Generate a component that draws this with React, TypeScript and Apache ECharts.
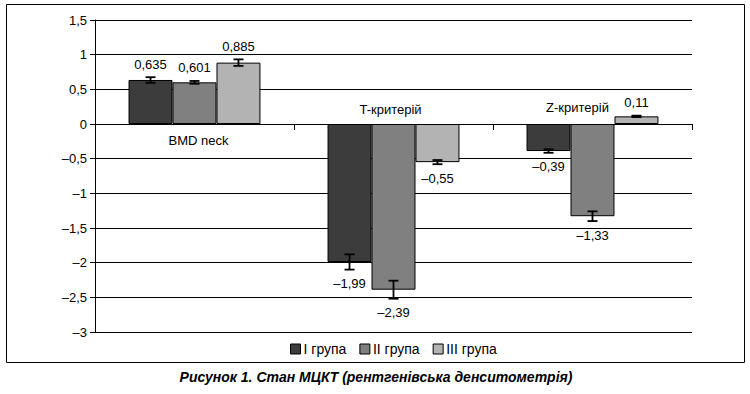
import React, { useEffect, useRef } from "react";
import * as echarts from "echarts";

const categories = ["BMD neck", "T-критерій", "Z-критерій"];
const seriesNames = ["I група", "II група", "III група"];
const group1 = [0.635, -1.99, -0.39];
const group2 = [0.601, -2.39, -1.33];
const group3 = [0.885, -0.55, 0.11];
const err1 = [0.04, 0.11, 0.025];
const err2 = [0.02, 0.13, 0.07];
const err3 = [0.047, 0.03, 0.01];
const valueLabels1 = ["0,635", "–1,99", "–0,39"];
const valueLabels2 = ["0,601", "–2,39", "–1,33"];
const valueLabels3 = ["0,885", "–0,55", "0,11"];
const colors = ["#3c3c3c", "#808080", "#b3b3b3"];
const caption = "Рисунок 1. Стан МЦКТ (рентгенівська денситометрія)";

const FONT = "'Liberation Sans', Arial, sans-serif";
const CAT_GAP = 0.337;

export default function App() {
  const ref = useRef<HTMLDivElement>(null);
  useEffect(() => {
    if (!ref.current) return;
    const chart = echarts.init(ref.current, undefined, { renderer: "svg" });
    const values = [group1, group2, group3];
    const errs = [err1, err2, err3];
    const labels = [valueLabels1, valueLabels2, valueLabels3];

    const barSeries = values.map((vals, s) => ({
      name: seriesNames[s],
      type: "bar",
      data: vals,
      barGap: "0%",
      barCategoryGap: CAT_GAP * 100 + "%",
      itemStyle: { color: colors[s], borderColor: "#000", borderWidth: 1 },
      z: 2,
    }));

    const errSeries = values.map((vals, s) => ({
      type: "custom",
      name: "err" + s,
      z: 5,
      data: vals.map((v, i) => [i, v, errs[s][i]]),
      renderItem: (params: any, api: any) => {
        const idx = api.value(0);
        const v = api.value(1);
        const e = api.value(2);
        const band = api.size([1, 0])[0];
        const barW = (band * (1 - CAT_GAP)) / 3;
        const cx = api.coord([idx, 0])[0] + (s - 1) * barW;
        const yHi = api.coord([idx, v + e])[1];
        const yLo = api.coord([idx, v - e])[1];
        const cap = 5;
        const st = { stroke: "#000", lineWidth: 1.8 };
        const pos = v >= 0;
        return {
          type: "group",
          children: [
            { type: "line", shape: { x1: cx, y1: yHi, x2: cx, y2: yLo }, style: st },
            { type: "line", shape: { x1: cx - cap, y1: yHi, x2: cx + cap, y2: yHi }, style: st },
            { type: "line", shape: { x1: cx - cap, y1: yLo, x2: cx + cap, y2: yLo }, style: st },
            {
              type: "text",
              x: cx,
              y: pos ? yHi - 13 : yLo + 14,
              style: {
                text: labels[s][params.dataIndex],
                fill: "#000",
                font: "13px " + FONT,
                align: "center",
                verticalAlign: "middle",
              },
            },
          ],
        };
      },
    }));

    const catSeries = {
      type: "custom",
      name: "cats",
      z: 5,
      data: categories.map((c, i) => [i, 0]),
      renderItem: (params: any, api: any) => {
        const idx = api.value(0);
        const p = api.coord([idx, 0]);
        const offs = [
          [4, 16],
          [-3, -15],
          [-15, -17],
        ];
        return {
          type: "text",
          x: p[0] + offs[idx][0],
          y: p[1] + offs[idx][1],
          style: {
            text: categories[idx],
            fill: "#000",
            font: "13px " + FONT,
            align: "center",
            verticalAlign: "middle",
          },
        };
      },
    };

    chart.setOption({
      animation: false,
      textStyle: { fontFamily: FONT },
      grid: { left: 95, right: 58, top: 20, bottom: 62, containLabel: false },
      legend: {
        data: seriesNames,
        top: 342,
        left: 290,
        icon: "rect",
        itemWidth: 10,
        itemHeight: 10,
        itemGap: 13,
        padding: 0,
        itemStyle: { borderColor: "#000", borderWidth: 1 },
        textStyle: { fontSize: 14, color: "#000", fontFamily: FONT, padding: [0, 0, 0, -2] },
      },
      xAxis: {
        type: "category",
        data: categories,
        axisLine: { onZero: true, lineStyle: { color: "#000", width: 1 } },
        axisTick: { show: true, length: 6, lineStyle: { color: "#000" } },
        axisLabel: { show: false },
        splitLine: { show: false },
      },
      yAxis: {
        type: "value",
        min: -3,
        max: 1.5,
        interval: 0.5,
        axisLine: { show: true, lineStyle: { color: "#000", width: 1 } },
        axisTick: { show: true, length: 5, lineStyle: { color: "#000" } },
        axisLabel: {
          color: "#000",
          fontSize: 13,
          fontFamily: FONT,
          margin: 8,
          formatter: (v: number) => String(v).replace(".", ",").replace("-", "–"),
        },
        splitLine: { show: true, lineStyle: { color: "#000", width: 1 } },
      },
      graphic: [
        {
          type: "rect",
          shape: { x: 6.5, y: 4.5, width: 738, height: 358 },
          style: { fill: "none", stroke: "#000", lineWidth: 1 },
          silent: true,
        },
        {
          type: "text",
          x: 376,
          y: 377,
          style: {
            text: caption,
            fill: "#000",
            font: "italic bold 14px " + FONT,
            align: "center",
            verticalAlign: "middle",
          },
        },
      ],
      series: [...barSeries, ...errSeries, catSeries],
    });
    return () => chart.dispose();
  }, []);
  return (
    <div
      ref={ref}
      style={{ position: "fixed", left: 0, top: 0, width: 750, height: 394, background: "#fff" }}
    />
  );
}
